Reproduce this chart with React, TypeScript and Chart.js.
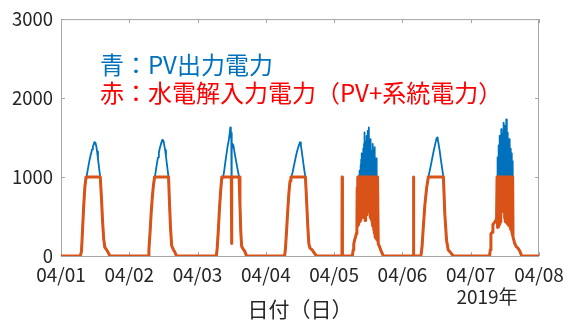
import React, { useEffect, useRef } from "react";
import { Chart, registerables } from "chart.js";

Chart.register(...registerables);

const dayLabels = ["04/01", "04/02", "04/03", "04/04", "04/05", "04/06", "04/07", "04/08"];
const yTickValues = [0, 1000, 2000, 3000];
const yearLabel = "2019年";
const xTitle = "日付（日）";
const pvNote = "青：PV出力電力";
const elNote = "赤：水電解入力電力（PV+系統電力）";
// note anchor in data units [day, W]
const pvNoteAt = [0.57, 2420];
const elNoteAt = [0.57, 2060];

// [hour of day, W]  electrolysis input (orange) and PV output (blue) per day
const el1 = [[0,0],[6.8,0],[7.2,60],[7.6,350],[8.0,650],[8.4,880],[8.8,1000],[13.8,1000],[14.2,750],[14.6,450],[15.0,220],[15.4,110],[16.0,80],[16.5,50],[17.2,0],[24,0]];
const pv1 = [[0,0],[6.8,0],[7.2,60],[7.6,350],[8.0,650],[8.4,880],[8.8,990],[9.1,1030],[9.4,1090],[9.7,1150],[10.0,1210],[10.3,1260],[10.6,1300],[10.9,1350],[11.2,1390],[11.5,1410],[11.7,1440],[11.9,1420],[12.1,1435],[12.4,1390],[12.7,1320],[13.0,1230],[13.3,1140],[13.6,1050],[13.8,1000],[14.2,750],[14.6,450],[15.0,220],[15.4,110],[16.0,80],[16.5,50],[17.2,0],[24,0]];

const el2 = [[0,0],[6.6,0],[6.9,80],[7.3,300],[7.7,550],[8.1,750],[8.5,900],[8.9,1000],[13.8,1000],[14.1,700],[14.5,350],[14.9,130],[15.5,80],[16.0,50],[16.6,0],[24,0]];
const pv2 = [[0,0],[6.6,0],[6.9,80],[7.3,300],[7.7,550],[8.1,750],[8.5,900],[8.9,990],[9.2,1050],[9.5,1120],[9.8,1190],[10.1,1250],[10.4,1310],[10.7,1360],[11.0,1400],[11.3,1440],[11.6,1470],[11.8,1450],[12.0,1460],[12.3,1400],[12.6,1340],[12.9,1260],[13.2,1170],[13.5,1080],[13.8,1000],[14.1,700],[14.5,350],[14.9,130],[15.5,80],[16.0,50],[16.6,0],[24,0]];

const el3 = [[0,0],[6.6,0],[6.9,100],[7.3,330],[7.7,600],[8.1,820],[8.5,1000],[11.85,1000],[11.95,158],[12.05,1000],[14.6,1000],[14.9,650],[15.2,300],[15.5,120],[16.0,90],[16.6,60],[17.2,0],[24,0]];
const pv3 = [[0,0],[6.6,0],[6.9,100],[7.3,330],[7.7,600],[8.1,820],[8.5,960],[9.0,1000],[9.4,1090],[9.8,1200],[10.2,1300],[10.6,1400],[11.0,1470],[11.3,1560],[11.5,1627],[11.7,1500],[11.85,1560],[11.95,158],[12.05,1350],[12.3,1420],[12.6,1400],[12.9,1330],[13.3,1250],[13.7,1170],[14.1,1090],[14.6,1000],[14.9,650],[15.2,300],[15.5,120],[16.0,90],[16.6,60],[17.2,0],[24,0]];

const el4 = [[0,0],[6.6,0],[6.9,100],[7.3,330],[7.7,580],[8.1,800],[8.5,950],[8.8,1000],[13.9,1000],[14.3,720],[14.7,400],[15.1,160],[15.5,100],[16.2,80],[17.0,40],[17.8,0],[24,0]];
const pv4 = [[0,0],[6.6,0],[6.9,100],[7.3,330],[7.7,580],[8.1,800],[8.5,950],[8.8,990],[9.1,1020],[9.4,1060],[9.8,1130],[10.2,1200],[10.6,1270],[11.0,1330],[11.4,1380],[11.7,1410],[12.0,1440],[12.3,1400],[12.6,1330],[12.9,1250],[13.2,1170],[13.5,1090],[13.9,1000],[14.3,720],[14.7,400],[15.1,160],[15.5,100],[16.2,80],[17.0,40],[17.8,0],[24,0]];

// 04/05: fluctuating period sampled every 7.5 min from 8:15
const burst5Start = 8.25;
const el5Burst = [1000,380,1000,400,1000,430,1000,450,1000,460,1000,480,1000,500,1000,530,1000,510,1000,480,1000,450,1000,480,1000,520,1000,560,1000,650,1000,700,1000,560,1000,510,1000,480,1000,450,1000,430,1000,380,1000,330,1000,290,1000,250,1000,230,1000,210,1000,200,1000];
const pv5Burst = [980,380,1000,400,1020,430,1080,450,1150,460,1220,480,1300,500,1260,530,1360,510,1420,480,1565,450,1380,480,1450,520,1520,560,1585,650,1400,700,1627,560,1350,510,1480,480,1330,450,1300,430,1420,380,1350,330,1250,290,1380,250,1200,230,1235,210,1100,200,1000];
const el5Before = [[0,0],[2.75,0],[2.8,1000],[2.9,1000],[2.95,0],[6.4,0],[6.7,80],[6.9,155],[7.2,200],[7.5,240],[7.8,285],[8.0,400],[8.1,860]];
const pv5Before = [[0,0],[6.4,0],[6.7,80],[6.9,155],[7.2,200],[7.5,240],[7.8,285],[8.0,400],[8.1,860]];
const el5After = [[15.5,155],[16.0,115],[16.6,55],[17.3,0],[24,0]];
const pv5After = [[15.5,155],[16.0,115],[16.6,55],[17.3,0],[24,0]];

const el6 = [[0,0],[3.8,0],[3.85,1000],[3.95,1000],[4.0,0],[6.5,0],[6.9,120],[7.4,400],[7.9,650],[8.5,860],[9.1,1000],[14.4,1000],[14.9,530],[15.5,200],[16.1,75],[17.0,40],[17.9,0],[24,0]];
const pv6 = [[0,0],[6.5,0],[6.9,120],[7.4,400],[7.9,650],[8.5,860],[9.1,1000],[9.6,1080],[10.1,1170],[10.6,1260],[11.1,1350],[11.6,1430],[12.0,1490],[12.2,1500],[12.4,1480],[12.7,1420],[13.1,1330],[13.5,1220],[14.0,1100],[14.4,1000],[14.9,530],[15.5,200],[16.1,75],[17.0,40],[17.9,0],[24,0]];

// 04/07: fluctuating period sampled every 7.5 min from 9:15
const burst7Start = 9.25;
const el7Burst = [1000,360,1000,370,1000,380,1000,400,1000,430,1000,520,1000,650,1000,700,1000,640,1000,560,1000,480,1000,450,1000,430,1000,420,1000,410,1000,400,1000,390,1000,380,1000,360,1000,340,1000,300,1000,270,1000,240];
const pv7Burst = [1000,360,1250,370,1400,380,1300,400,1525,430,1450,520,1605,650,1500,700,1550,640,1690,560,1600,480,1650,450,1500,430,1730,420,1600,410,1565,400,1450,390,1480,380,1400,360,1360,340,1300,300,1250,270,1200,240];
const el7Before = [[0,0],[6.6,0],[6.9,80],[7.1,280],[7.5,300],[7.8,400],[8.3,420],[8.8,450],[9.1,480]];
const pv7Before = [[0,0],[6.6,0],[6.9,80],[7.1,280],[7.5,300],[7.8,400],[8.3,420],[8.8,450],[9.1,480]];
const el7After = [[15.0,240],[15.5,155],[16.1,115],[16.6,100],[17.3,60],[17.9,0],[24,0]];
const pv7After = [[15.0,240],[15.5,155],[16.1,115],[16.6,100],[17.3,60],[17.9,0],[24,0]];

const burstStep = 0.125; // hours between samples in the fluctuating periods

const withBurst = (before: number[][], start: number, values: number[], after: number[][]) => [
  ...before,
  ...values.map((v, i) => [start + i * burstStep, v]),
  ...after,
];

const elDays = [el1, el2, el3, el4, withBurst(el5Before, burst5Start, el5Burst, el5After), el6, withBurst(el7Before, burst7Start, el7Burst, el7After)];
const pvDays = [pv1, pv2, pv3, pv4, withBurst(pv5Before, burst5Start, pv5Burst, pv5After), pv6, withBurst(pv7Before, burst7Start, pv7Burst, pv7After)];

const toPoints = (days: number[][][]) =>
  days.flatMap((day, d) => day.map(([h, w]) => ({ x: d + h / 24, y: w })));

const FONT = '"Noto Sans CJK JP", "Noto Sans", sans-serif';
const BLUE = "#0072BD";
const ORANGE = "#D95319";
const TEXT = "#262626";
const AXIS = "#a6a6a6";

const boxPlugin = {
  id: "box",
  beforeDatasetsDraw(chart: any) {
    const { ctx, chartArea: a, scales } = chart;
    ctx.save();
    ctx.strokeStyle = AXIS;
    ctx.lineWidth = 1;
    ctx.strokeRect(a.left + 0.5, a.top + 0.5, a.right - a.left - 1, a.bottom - a.top);
    const tl = 4;
    ctx.beginPath();
    dayLabels.forEach((_, i) => {
      const px = Math.round(scales.x.getPixelForValue(i)) + 0.5;
      ctx.moveTo(px, a.bottom); ctx.lineTo(px, a.bottom - tl);
      ctx.moveTo(px, a.top); ctx.lineTo(px, a.top + tl);
    });
    yTickValues.forEach((v) => {
      const py = Math.round(scales.y.getPixelForValue(v)) + 0.5;
      ctx.moveTo(a.left, py); ctx.lineTo(a.left + tl, py);
      ctx.moveTo(a.right, py); ctx.lineTo(a.right - tl, py);
    });
    ctx.stroke();
    ctx.restore();
  },
  afterDraw(chart: any) {
    const { ctx, chartArea: a, scales } = chart;
    ctx.save();
    ctx.textBaseline = "middle";
    ctx.textAlign = "left";
    ctx.font = `24px ${FONT}`;
    ctx.fillStyle = BLUE;
    ctx.fillText(pvNote, scales.x.getPixelForValue(pvNoteAt[0]), scales.y.getPixelForValue(pvNoteAt[1]));
    ctx.fillStyle = "#ff0000";
    ctx.fillText(elNote, scales.x.getPixelForValue(elNoteAt[0]), scales.y.getPixelForValue(elNoteAt[1]));
    ctx.font = `19px ${FONT}`;
    ctx.fillStyle = TEXT;
    ctx.textAlign = "center";
    ctx.fillText(yearLabel, a.right - 52, 297);
    ctx.restore();
  },
};

export default function App() {
  const ref = useRef<HTMLCanvasElement | null>(null);
  useEffect(() => {
    if (!ref.current) return;
    const chart = new Chart(ref.current, {
      type: "line",
      data: {
        datasets: [
          {
            label: "el",
            data: toPoints(elDays),
            borderColor: ORANGE,
            borderWidth: 3,
            pointRadius: 0,
            tension: 0,
            borderJoinStyle: "round",
            borderCapStyle: "round",
            order: 0,
          },
          {
            label: "pv",
            data: toPoints(pvDays),
            borderColor: BLUE,
            borderWidth: 1.8,
            pointRadius: 0,
            tension: 0,
            borderJoinStyle: "round",
            borderCapStyle: "round",
            order: 1,
          },
        ],
      },
      options: {
        responsive: false,
        animation: false,
        parsing: false,
        layout: { padding: { top: 15, right: 35, bottom: 0, left: 0 } },
        plugins: { legend: { display: false }, tooltip: { enabled: false } },
        scales: {
          x: {
            type: "linear",
            min: 0,
            max: 7,
            afterBuildTicks: (s: any) => {
              s.ticks = dayLabels.map((_, i) => ({ value: i }));
            },
            afterFit: (s: any) => {
              s.height = 70;
            },
            ticks: {
              callback: (_v: any, i: number) => dayLabels[i],
              font: { family: FONT, size: 19 },
              color: TEXT,
              padding: 7,
              maxRotation: 0,
              autoSkip: false,
            },
            grid: { display: false, drawTicks: false },
            border: { display: false },
            title: {
              display: true,
              text: xTitle,
              font: { family: FONT, size: 21 },
              color: TEXT,
              padding: { top: 0, bottom: 4 },
            },
          },
          y: {
            min: 0,
            max: 3000,
            afterBuildTicks: (s: any) => {
              s.ticks = yTickValues.map((v) => ({ value: v }));
            },
            afterFit: (s: any) => {
              s.width = 61;
            },
            ticks: {
              callback: (v: any) => String(v),
              font: { family: FONT, size: 18.5 },
              color: TEXT,
              padding: 8,
            },
            grid: { display: false, drawTicks: false },
            border: { display: false },
          },
        },
      },
      plugins: [boxPlugin],
    } as any);
    return () => chart.destroy();
  }, []);
  return (
    <div style={{ position: "absolute", left: 0, top: 0, width: 574, height: 326, background: "#fff" }}>
      <canvas ref={ref} width={574} height={326} style={{ width: 574, height: 326 }} />
    </div>
  );
}
